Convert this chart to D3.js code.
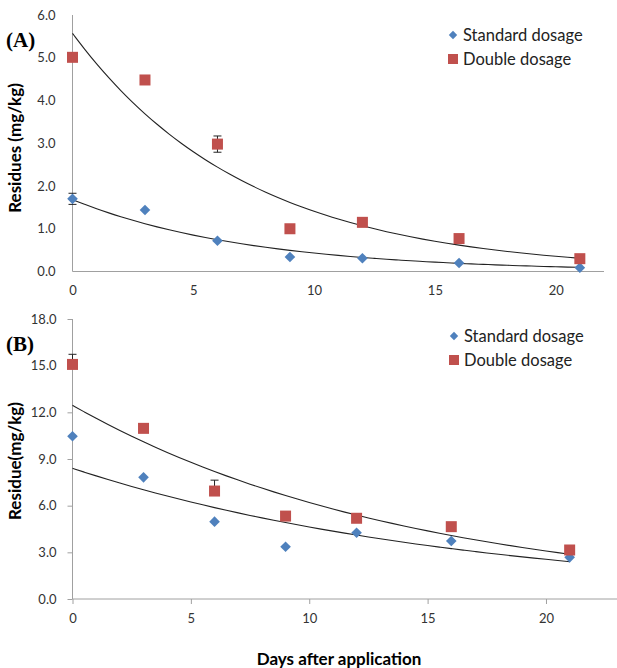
<!DOCTYPE html>
<html>
<head>
<meta charset="utf-8">
<script src="https://cdnjs.cloudflare.com/ajax/libs/d3/7.8.5/d3.min.js"></script>
<style>
  body { margin: 0; background: #fff; }
  svg { display: block; }
  .tick text { font-family: Lato, "Open Sans", sans-serif; font-size: 13px; fill: #333; }
</style>
</head>
<body>
<div class="chart"></div>
<script>
// ********************** DATA **********************

// sampling days
const days = [0, 3, 6, 9, 12, 16, 21]

// panel A residues (mg/kg)
const aStandard = [1.70, 1.44, 0.72, 0.34, 0.31, 0.20, 0.09]
const aDouble = [5.01, 4.48, 2.98, 1.00, 1.15, 0.77, 0.30]
const aStandardErr = [0.13, 0, 0, 0, 0, 0, 0]
const aDoubleErr = [0, 0, 0.19, 0, 0.10, 0, 0.04]

// panel B residues (mg/kg)
const bStandard = [10.46, 7.82, 4.97, 3.36, 4.26, 3.73, 2.68]
const bDouble = [15.08, 10.97, 6.94, 5.33, 5.19, 4.65, 3.15]
const bStandardErr = [0, 0, 0, 0, 0, 0, 0]
const bDoubleErr = [0.65, 0, 0.70, 0, 0, 0, 0]

// exponential trend lines y = a * exp(-k * x)
const aTrend = [[1.68, 0.136], [5.57, 0.1376]]
const bTrend = [[8.40, 0.0596], [12.45, 0.0697]]

// tick labels
const xTicks = [0, 5, 10, 15, 20]
const aYTicks = [0, 1, 2, 3, 4, 5, 6]
const bYTicks = [0, 3, 6, 9, 12, 15, 18]

const seriesNames = ["Standard dosage", "Double dosage"]

// ********************** SETTINGS **********************

const width = 617
const height = 668
const blue = "#4f81bd"
const red = "#c0504d"
const axisColor = "#a0a0a0"

const svg = d3.select(".chart")
  .append("svg")
  .attr("width", width)
  .attr("height", height)

// draws one panel
const panel = (opt) => {
  const xScale = d3.scaleLinear()
    .domain([0, opt.xMax])
    .range([72.5, opt.xRight])

  const yScale = d3.scaleLinear()
    .domain([0, opt.yMax])
    .range([opt.bottom, opt.top])

  const g = svg.append("g")

  // y-axis
  const yAxis = d3.axisLeft(yScale)
    .tickValues(opt.yTicks)
    .tickFormat(d3.format(".1f"))
    .tickSize(opt.ticks ? 5 : 0)
    .tickPadding(opt.ticks ? 11 : 17)
  g.append("g")
    .attr("transform", "translate(" + xScale(0) + ",0)")
    .call(yAxis)
    .call(a => a.select(".domain").remove())
    .call(a => a.selectAll("line").attr("stroke", axisColor))

  g.append("line")
    .attr("x1", xScale(0)).attr("x2", xScale(0))
    .attr("y1", yScale(opt.yMax)).attr("y2", yScale(0))
    .attr("stroke", axisColor)

  // x-axis
  const xAxis = d3.axisBottom(xScale)
    .tickValues(xTicks)
    .tickSize(opt.ticks ? 5 : 0)
    .tickPadding(opt.ticks ? 10 : 14)
  g.append("g")
    .attr("transform", "translate(0," + yScale(0) + ")")
    .call(xAxis)
    .call(a => a.select(".domain").remove())
    .call(a => a.selectAll("line").attr("stroke", axisColor))

  g.append("line")
    .attr("x1", xScale(0)).attr("x2", opt.xRight)
    .attr("y1", yScale(0)).attr("y2", yScale(0))
    .attr("stroke", axisColor)

  // trend lines
  const line = d3.line()
    .x(d => xScale(d[0]))
    .y(d => yScale(d[1]))
    .curve(d3.curveBasis)

  opt.trend.forEach(t => {
    const pts = d3.range(0, 21.001, 0.5).map(x => [x, t[0] * Math.exp(-t[1] * x)])
    g.append("path")
      .attr("d", line(pts))
      .attr("fill", "none")
      .attr("stroke", "#222")
      .attr("stroke-width", 1.1)
  })

  // error bars
  const errBars = (vals, errs) => {
    vals.forEach((v, i) => {
      if (!errs[i]) return
      const x = xScale(days[i])
      const lo = opt.plusOnly ? v : v - errs[i]
      g.append("line")
        .attr("x1", x).attr("x2", x)
        .attr("y1", yScale(lo)).attr("y2", yScale(v + errs[i]))
        .attr("stroke", "#222")
      g.append("line")
        .attr("x1", x - 4).attr("x2", x + 4)
        .attr("y1", yScale(v + errs[i])).attr("y2", yScale(v + errs[i]))
        .attr("stroke", "#222")
      if (!opt.plusOnly) {
        g.append("line")
          .attr("x1", x - 4).attr("x2", x + 4)
          .attr("y1", yScale(lo)).attr("y2", yScale(lo))
          .attr("stroke", "#222")
      }
    })
  }
  errBars(opt.standard, opt.standardErr)
  errBars(opt.double, opt.doubleErr)

  // standard dosage diamonds
  g.selectAll(".diamond")
    .data(opt.standard)
    .enter()
    .append("path")
    .attr("d", d3.symbol(d3.symbolDiamond2, 72))
    .attr("transform", (d, i) => "translate(" + xScale(days[i]) + "," + yScale(d) + ")")
    .attr("fill", blue)

  // double dosage squares
  g.selectAll(".square")
    .data(opt.double)
    .enter()
    .append("rect")
    .attr("x", (d, i) => xScale(days[i]) - 5.5)
    .attr("y", d => yScale(d) - 5.5)
    .attr("width", 11)
    .attr("height", 11)
    .attr("fill", red)

  // legend
  const leg = g.append("g")
    .attr("transform", "translate(" + opt.legX + "," + opt.legY + ")")
  leg.append("path")
    .attr("d", d3.symbol(d3.symbolDiamond2, 45))
    .attr("fill", blue)
  leg.append("rect")
    .attr("x", -5).attr("y", 19)
    .attr("width", 10).attr("height", 10)
    .attr("fill", red)
  seriesNames.forEach((name, i) => {
    leg.append("text")
      .attr("x", 10)
      .attr("y", i * 24 + 5.5)
      .attr("font-family", "Lato, 'Open Sans', sans-serif")
      .attr("font-size", "16.5px")
      .attr("fill", "#222")
      .text(name)
  })

  // panel letter
  g.append("text")
    .attr("x", 6)
    .attr("y", opt.top + 32)
    .attr("font-family", "'Liberation Serif', 'Times New Roman', serif")
    .attr("font-weight", "bold")
    .attr("font-size", "21px")
    .text(opt.letter)

  // y-axis title
  g.append("text")
    .attr("transform", "translate(21," + opt.titleY + ") rotate(-90)")
    .attr("text-anchor", "middle")
    .attr("font-family", "Lato, 'Open Sans', sans-serif")
    .attr("font-weight", "bold")
    .attr("font-size", "17px")
    .text(opt.title)
}

panel({
  letter: "(A)", title: "Residues (mg/kg)", titleY: 148,
  top: 15, bottom: 271.5, yMax: 6, yTicks: aYTicks,
  xMax: 22, xRight: 604, ticks: false, plusOnly: false,
  standard: aStandard, double: aDouble,
  standardErr: aStandardErr, doubleErr: aDoubleErr,
  trend: aTrend, legX: 453, legY: 35
})

panel({
  letter: "(B)", title: "Residue(mg/kg)", titleY: 461,
  top: 319, bottom: 599, yMax: 18, yTicks: bYTicks,
  xMax: 23, xRight: 617, ticks: true, plusOnly: true,
  standard: bStandard, double: bDouble,
  standardErr: bStandardErr, doubleErr: bDoubleErr,
  trend: bTrend, legX: 454, legY: 336
})

// shared x-axis title
svg.append("text")
  .attr("x", 339)
  .attr("y", 665)
  .attr("text-anchor", "middle")
  .attr("font-family", "Lato, 'Open Sans', sans-serif")
  .attr("font-weight", "bold")
  .attr("font-size", "17px")
  .text("Days after application")
</script>
</body>
</html>
